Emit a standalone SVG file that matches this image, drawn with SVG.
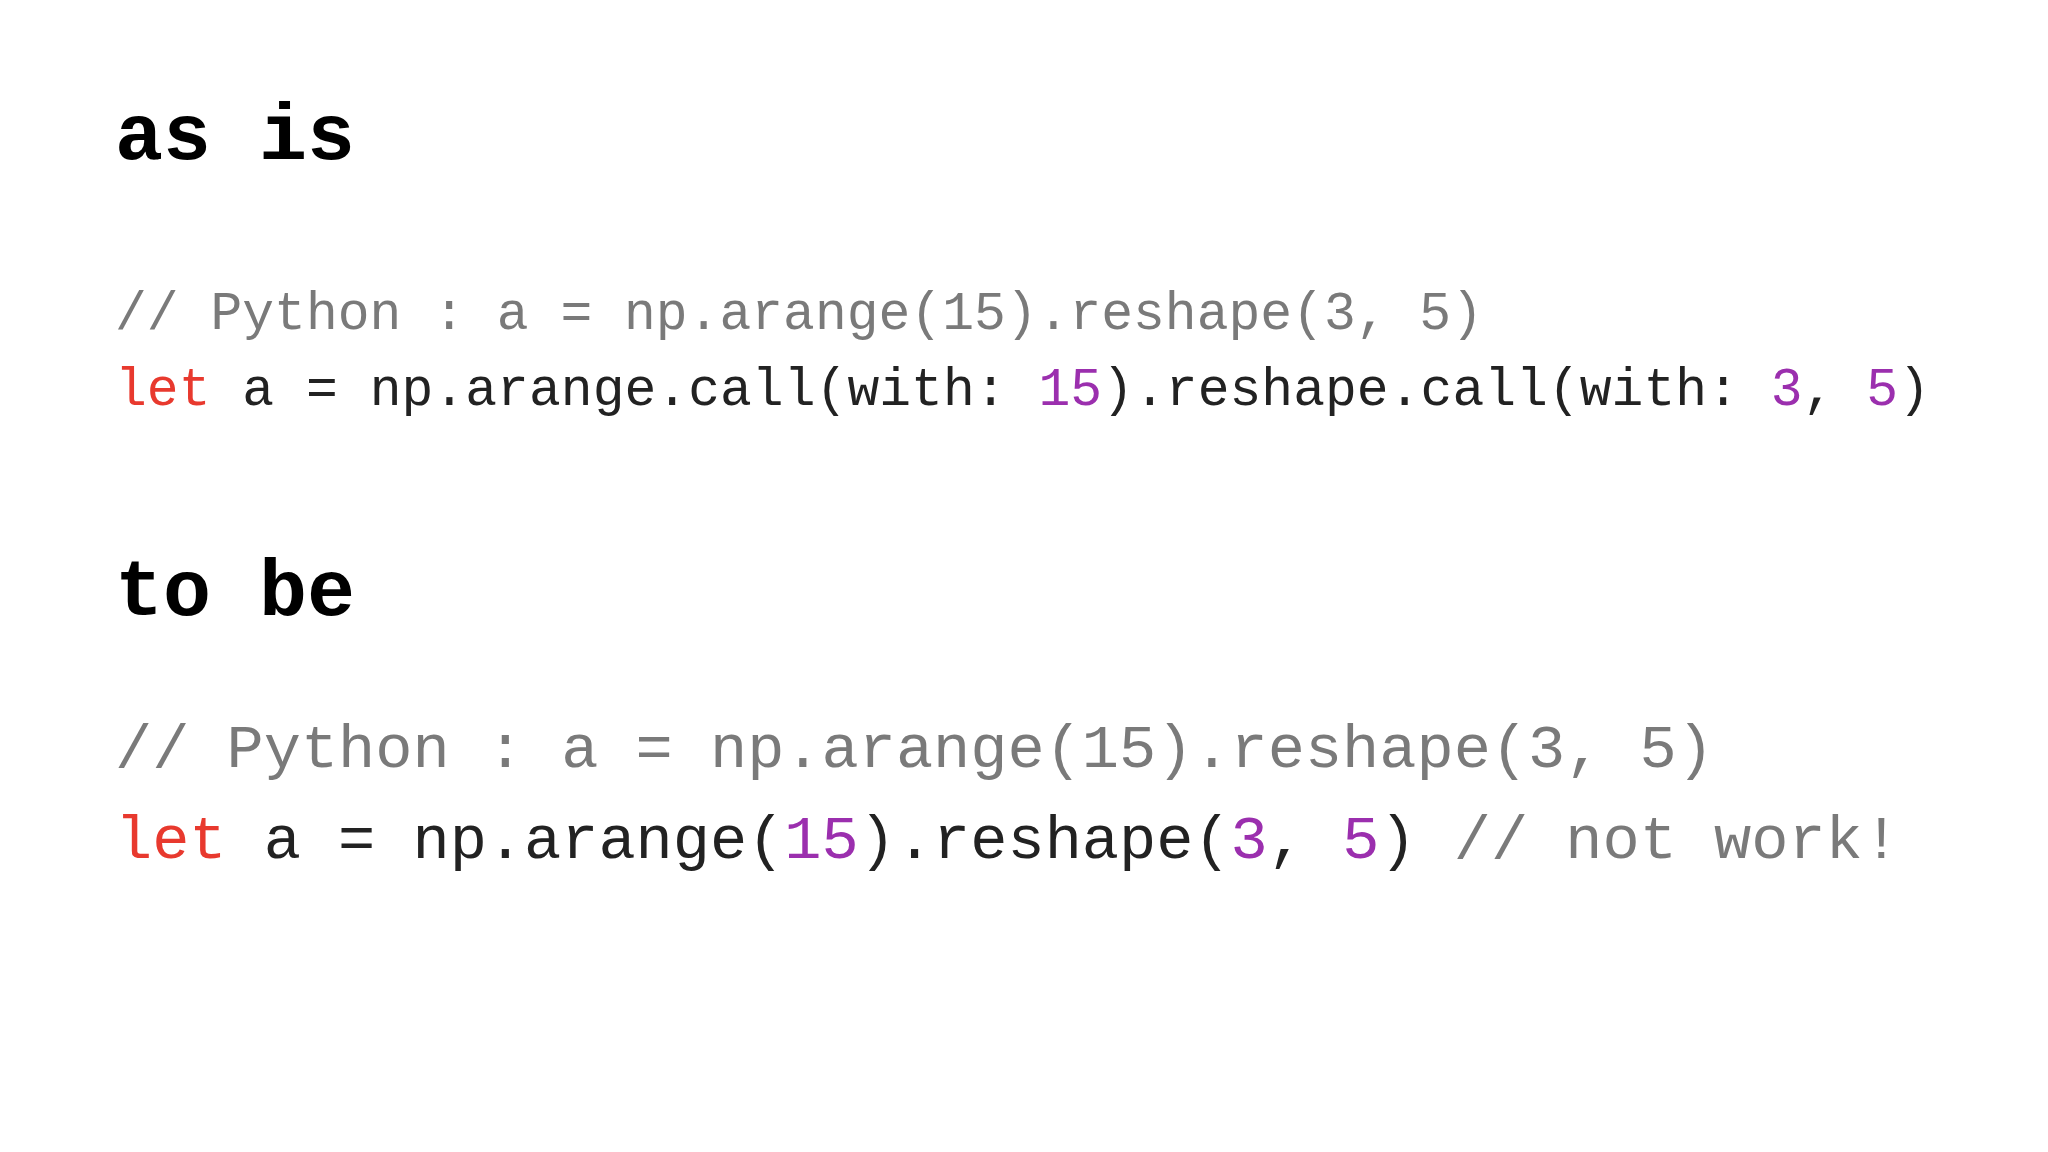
<svg xmlns="http://www.w3.org/2000/svg" width="2048" height="1152" viewBox="0 0 2048 1152">
<style>
text{font-family:"Liberation Mono","DejaVu Sans Mono",monospace;fill:#222}
.h{font-weight:bold;font-size:80px;fill:#000}
.s{font-size:53px}
.b{font-size:62px}
.c{fill:#7a7a7a}
.k{fill:#e8392e}
.n{fill:#9b2fae}
</style>
<rect width="2048" height="1152" fill="#ffffff"/>
<g id="asis">
<text class="h" x="115" y="159">as is</text>
<text class="s c" x="115" y="329" textLength="1368" lengthAdjust="spacing">// Python : a = np.arange(15).reshape(3, 5)</text>
<text class="s" x="115" y="405" textLength="1815" lengthAdjust="spacing"><tspan class="k">let</tspan> a = np.arange.call(with: <tspan class="n">15</tspan>).reshape.call(with: <tspan class="n">3</tspan>, <tspan class="n">5</tspan>)</text>
</g>
<g id="tobe">
<text class="h" x="115" y="615">to be</text>
<text class="b c" x="115" y="767" textLength="1599" lengthAdjust="spacing">// Python : a = np.arange(15).reshape(3, 5)</text>
<text class="b" x="115" y="858" textLength="1785" lengthAdjust="spacing"><tspan class="k">let</tspan> a = np.arange(<tspan class="n">15</tspan>).reshape(<tspan class="n">3</tspan>, <tspan class="n">5</tspan>) <tspan class="c">// not work!</tspan></text>
</g>
</svg>
